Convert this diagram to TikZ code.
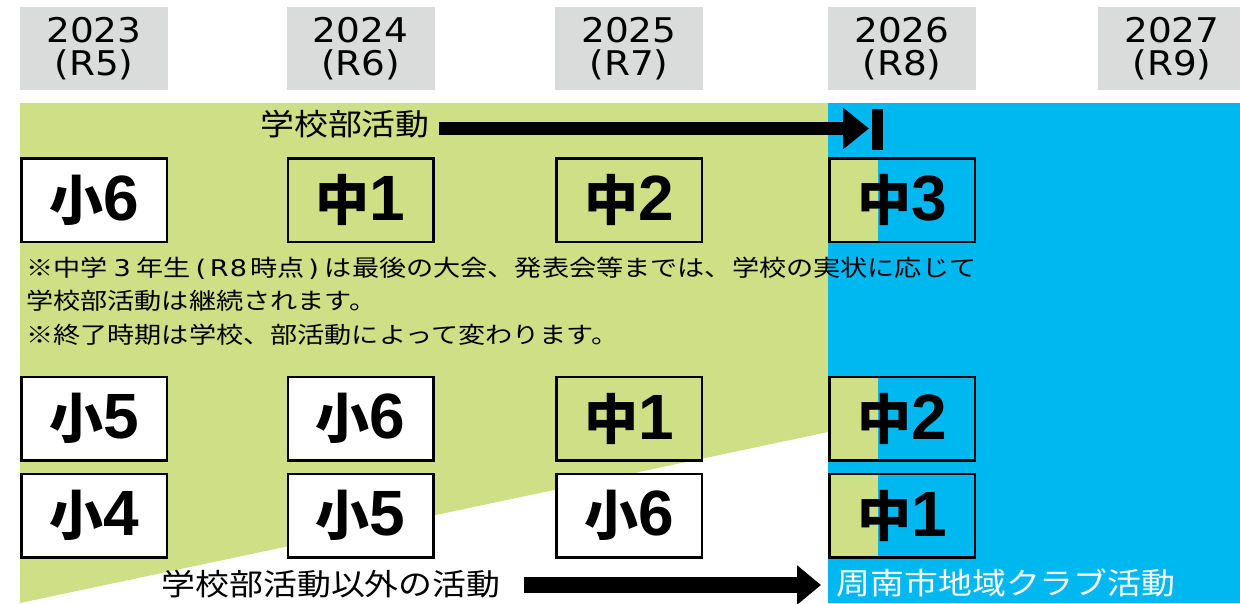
\documentclass[tikz,border=0pt]{standalone}
\usepackage{fontspec}
\usepackage{graphicx}
\usetikzlibrary{arrows.meta}
\newfontfamily\cjk{Noto Sans CJK JP}
\newfontfamily\hdrf{DejaVu Sans}
\newfontfamily\digf{Liberation Sans}
\definecolor{grn}{HTML}{CEDF86}
\definecolor{blu}{HTML}{00B8F0}
\definecolor{hdrgray}{HTML}{DADBDB}
\newcommand{\sx}[2]{\scalebox{#1}[1]{#2}}
\newcommand{\lblk}[2]{{\cjk\bfseries\fontsize{54}{54}\selectfont #1}{\digf\bfseries\fontsize{64}{64}\selectfont #2}}
\newcommand{\lat}[1]{{\hdrf #1}}
\tikzset{
  hdrbox/.style={fill=hdrgray, minimum width=148pt, minimum height=83pt, inner sep=0pt, align=center,
    font=\hdrf\fontsize{34}{33}\selectfont},
  gbox/.style={draw=black, line width=2.5pt, minimum width=145.5pt, minimum height=83.5pt, inner sep=0pt},
  wbox/.style={gbox, fill=white},
  jtext/.style={inner sep=0pt, font=\cjk\fontsize{30}{30}\selectfont},
  notetext/.style={inner sep=0pt, anchor=west, font=\cjk\fontsize{23}{23}\selectfont},
  bigarrowA/.style={line width=13pt, -{Triangle[length=26pt 0 0, width=40pt 0 0]}},
  bigarrowB/.style={line width=16pt, -{Triangle[length=24pt 0 0, width=38pt 0 0]}},
}
\begin{document}
\begin{tikzpicture}[x=1pt,y=-1pt]
\useasboundingbox (0,0) rectangle (1240,603);
\fill[white] (0,0) rectangle (1240,603);
% backgrounds
\fill[grn] (20,103) -- (828,103) -- (828,432) -- (20,603) -- cycle;
\fill[blu] (828,103) rectangle (1240,603);
% headers
\node[hdrbox] (h1) at (94,48.5) {\sx{1.1}{2023}\\\sx{1.1}{(R5)}};
\node[hdrbox] (h2) at (360.5,48.5) {\sx{1.1}{2024}\\\sx{1.1}{(R6)}};
\node[hdrbox] (h3) at (629,48.5) {\sx{1.1}{2025}\\\sx{1.1}{(R7)}};
\node[hdrbox] (h4) at (902,48.5) {\sx{1.1}{2026}\\\sx{1.1}{(R8)}};
\node[hdrbox] (h5) at (1172,48.5) {\sx{1.1}{2027}\\\sx{1.1}{(R9)}};
% green strips in 2026 column
\fill[grn] (828,157) rectangle (878,243);
\fill[grn] (828,376) rectangle (878,461);
\fill[grn] (828,473) rectangle (878,558);
% row 1
\node[wbox] (b11) at (94,200) {\lblk{小}{6}};
\node[gbox] (b12) at (360.5,200) {\lblk{中}{1}};
\node[gbox] (b13) at (629,200) {\lblk{中}{2}};
\node[gbox] (b14) at (902,200) {\lblk{中}{3}};
% row 2
\node[wbox] (b21) at (94,418.5) {\lblk{小}{5}};
\node[wbox] (b22) at (360.5,418.5) {\lblk{小}{6}};
\node[gbox] (b23) at (629,418.5) {\lblk{中}{1}};
\node[gbox] (b24) at (902,418.5) {\lblk{中}{2}};
% row 3
\node[wbox] (b31) at (94,515.5) {\lblk{小}{4}};
\node[wbox] (b32) at (360.5,515.5) {\lblk{小}{5}};
\node[wbox] (b33) at (629,515.5) {\lblk{小}{6}};
\node[gbox] (b34) at (902,515.5) {\lblk{中}{1}};
% top arrow
\node[jtext] (lblA) at (345,124) {\sx{1.13}{学校部活動}};
\coordinate (startA) at (439,128.5);
\coordinate (tipA) at (869,128.5);
\draw[bigarrowA] (startA) -- (tipA);
\coordinate (barT) at (877.5,109);
\coordinate (barB) at (877.5,150);
\draw[line width=11pt] (barT) -- (barB);
% notes
\node[notetext] (n1) at (26,268) {\sx{1.18}{※中学\lat{\hspace{5pt}3\hspace{5pt}}年生\lat{\hspace{4pt}(\hspace{3pt}R\hspace{1pt}8\hspace{3pt}}時点\lat{\hspace{3pt})\hspace{5pt}}は最後の大会、発表会等までは、学校の実状に応じて}};
\node[notetext] (n2) at (26,301) {\sx{1.18}{学校部活動は継続されます。}};
\node[notetext] (n3) at (26,335) {\sx{1.18}{※終了時期は学校、部活動によって変わります。}};
% bottom arrow
\node[jtext] (lblB) at (331,584) {\sx{1.13}{学校部活動以外の活動}};
\coordinate (startB) at (524,585);
\coordinate (tipB) at (821,585);
\draw[bigarrowB] (startB) -- (tipB);
\node[jtext, text=white] (lblC) at (1006,583) {\sx{1.13}{周南市地域クラブ活動}};
\end{tikzpicture}
\end{document}
